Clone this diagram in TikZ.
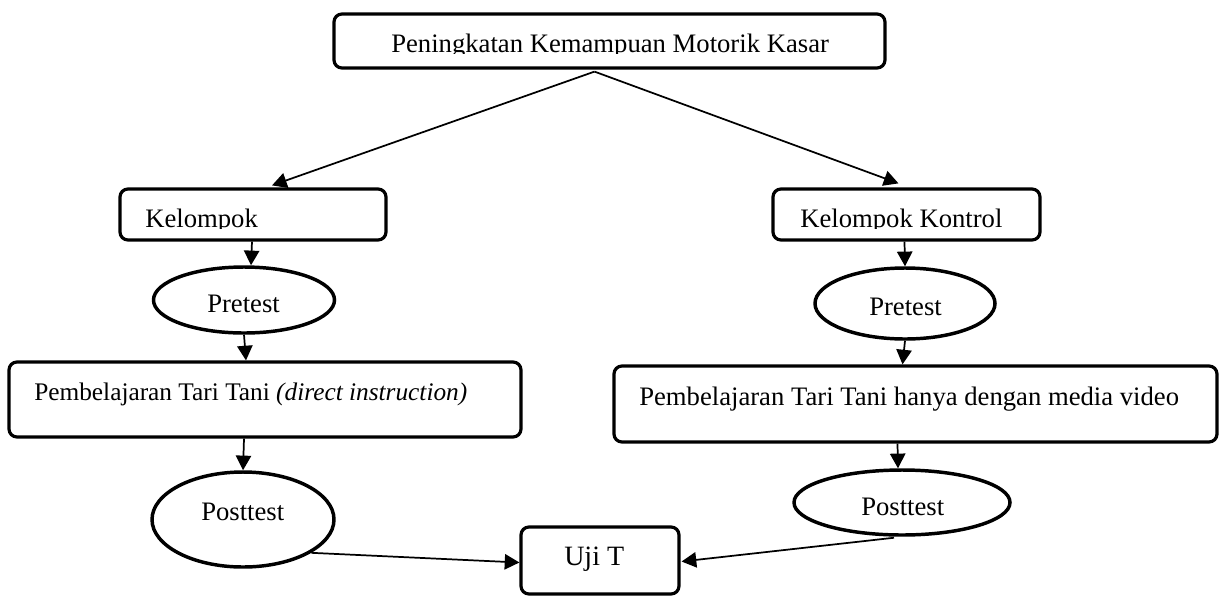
\documentclass[tikz,border=0pt]{standalone}
\usepackage{fontspec}
\setmainfont{Liberation Serif}
\usetikzlibrary{arrows.meta,calc,fit,shapes.geometric}
\begin{document}
\begin{tikzpicture}[x=0.75pt,y=-0.75pt,
  box/.style={draw, line width=2.4pt, rounded corners=6pt, inner sep=0pt},
  oval/.style={draw, ellipse, line width=2.6pt, inner sep=0pt},
  txt/.style={inner sep=0pt, anchor=base west, font=\fontsize{20}{24}\selectfont},
  conn/.style={line width=1.3pt, -{Triangle[length=11pt,width=11.5pt]}}]
\useasboundingbox[fill=white] (0,0) rectangle (1220,597);

% boxes
\node[box, fit={(334,14)(885,68)}] (top) {};
\node[box, fit={(120,189)(386,240)}] (k1) {};
\node[box, fit={(773,189)(1040,240)}] (k2) {};
\node[box, fit={(9,362)(521,437)}] (pemb1) {};
\node[box, fit={(614,366)(1217,442)}] (pemb2) {};
\node[box, fit={(521,527)(679,594)}] (uji) {};

% ellipses
\node[oval, minimum width=135.75pt, minimum height=49.5pt] (pre1) at (244,300) {};
\node[oval, minimum width=136.5pt, minimum height=71.25pt] (post1) at (243,519.5) {};
\node[oval, minimum width=135pt, minimum height=53.25pt] (pre2) at (905,303.5) {};
\node[oval, minimum width=162pt, minimum height=48.75pt] (post2) at (902,502.5) {};

% texts (descenders clipped as in the original)
\begin{scope}
  \clip (334,14) rectangle (885,53.5);
  \node[txt] (ttop) at (391,52) {Peningkatan Kemampuan Motorik Kasar};
\end{scope}
\begin{scope}
  \clip (120,189) rectangle (386,228);
  \node[txt] (tk1) at (145,227) {Kelompok};
\end{scope}
\begin{scope}
  \clip (773,189) rectangle (1040,228);
  \node[txt] (tk2) at (800,227) {Kelompok Kontrol};
\end{scope}
\node[txt] (tpre1) at (207,312) {Pretest};
\node[txt] (tpre2) at (869,315) {Pretest};
\node[txt, font=\fontsize{19}{23}\selectfont] (tpemb1) at (34,400) {Pembelajaran Tari Tani \textit{(direct instruction)}};
\node[txt] (tpemb2) at (639,405) {Pembelajaran Tari Tani hanya dengan media video};
\node[txt] (tpost1) at (201,520) {Posttest};
\node[txt] (tpost2) at (861,515) {Posttest};
\node[txt, font=\fontsize{21}{25}\selectfont] (tuji) at (564,565) {Uji T};

% connectors
\coordinate (apex) at ($(top.south)+(-15,2)$);
\draw[conn] (apex) -- ($(k1.north)+(19,-2)$);
\draw[conn] (apex) -- ($(k2.north)+(-8,-4)$);
\draw[conn] ($(k1.south)+(-1,0)$) -- ($(pre1.north)+(7,0)$);
\draw[conn] (pre1.south) -- ($(pemb1.north)+(-19,0)$);
\draw[conn] ($(pemb1.south)+(-21,0)$) -- (post1.north);
\draw[conn] (post1.-26) -- ($(uji.west)+(0,2)$);
\draw[conn] ($(k2.south)+(-2,0)$) -- (pre2.north);
\draw[conn] (pre2.south) -- ($(pemb2.north)+(-13,0)$);
\draw[conn] ($(pemb2.south)+(-18,0)$) -- ($(post2.north)+(-4,0)$);
\draw[conn] ($(post2.south)+(-8,1)$) -- ($(uji.east)+(1,1)$);
\end{tikzpicture}
\end{document}
